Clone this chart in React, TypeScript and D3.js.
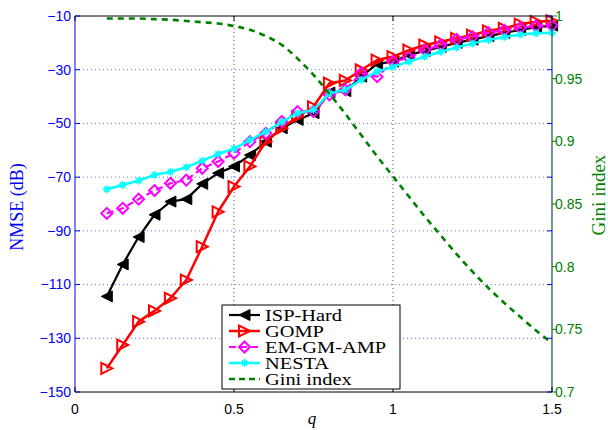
import React from "react";
import * as d3 from "d3";

const qValues = [0.1, 0.15, 0.2, 0.25, 0.3, 0.35, 0.4, 0.45, 0.5, 0.55, 0.6, 0.65, 0.7, 0.75, 0.8, 0.85, 0.9, 0.95, 1.0, 1.05, 1.1, 1.15, 1.2, 1.25, 1.3, 1.35, 1.4, 1.45, 1.5];

const ispHard = [-114.4, -102.5, -92.3, -84, -79.1, -78.2, -72.5, -68.5, -66, -61.8, -56.8, -51.8, -48.7, -46.2, -38.5, -38, -32.6, -27.8, -27, -24.5, -23, -21.5, -20, -18.8, -17.5, -16.3, -15.2, -14.2, -13.6];
const gomp = [-141.2, -132.5, -123.8, -119.8, -115.1, -108.3, -95.9, -82.9, -73.5, -66, -56.8, -51.8, -47.5, -43.8, -35, -34, -30.1, -26.4, -25.1, -22.7, -20.8, -19.6, -18.3, -17.1, -15.5, -14.6, -13, -12.1, -11.8];
const emGmAmp = [-83.5, -81.6, -78.2, -75, -72.3, -71.1, -66.7, -64.2, -61.1, -56.8, -53.7, -49.3, -45.6, -45.6, -39.4, -37.5, -31.3, -32.6, -27, -25.5, -22.7, -20.8, -18.7, -17.7, -16.2, -15.3, -14.4, -13.7, -13.5];
const nesta = [-74.5, -72.9, -71.3, -69.2, -68, -66.3, -63.9, -61.4, -59.4, -56.2, -53.1, -49.4, -46.2, -45, -38.8, -37.5, -33.8, -30.7, -28.9, -27, -25.1, -23.3, -21.7, -20.2, -18.9, -17.8, -16.9, -16.4, -16.2];
const gini = [0.998, 0.998, 0.998, 0.9975, 0.997, 0.996, 0.995, 0.994, 0.992, 0.989, 0.984, 0.977, 0.966, 0.953, 0.938, 0.922, 0.905, 0.888, 0.872, 0.856, 0.84, 0.825, 0.81, 0.796, 0.783, 0.771, 0.76, 0.749, 0.739];

const xTicks = [0, 0.5, 1, 1.5];
const leftTicks = [-10, -30, -50, -70, -90, -110, -130, -150];
const rightTicks = [0.7, 0.75, 0.8, 0.85, 0.9, 0.95, 1];

type Marker = "left" | "right" | "diamond" | "star";

const series: { name: string; values: number[]; color: string; dash?: string; marker: Marker; width: number }[] = [
  { name: "ISP-Hard", values: ispHard, color: "#000000", marker: "left", width: 2.2 },
  { name: "GOMP", values: gomp, color: "#ff0000", marker: "right", width: 2.5 },
  { name: "EM-GM-AMP", values: emGmAmp, color: "#ff00ff", dash: "7,4", marker: "diamond", width: 2.2 },
  { name: "NESTA", values: nesta, color: "#00ffff", marker: "star", width: 2.5 },
];

const M = { left: 75, right: 552, top: 16, bottom: 392 };

function MarkerShape({ type, x, y, color }: { type: Marker; x: number; y: number; color: string }) {
  const s = 5.5;
  if (type === "left") {
    return <path d={`M${x - s},${y}L${x + s},${y - s}L${x + s},${y + s}Z`} fill={color} stroke={color} strokeWidth={1} />;
  }
  if (type === "right") {
    return <path d={`M${x + s},${y}L${x - s},${y - s}L${x - s},${y + s}Z`} fill="none" stroke={color} strokeWidth={2} />;
  }
  if (type === "diamond") {
    return <path d={`M${x},${y - s}L${x + s},${y}L${x},${y + s}L${x - s},${y}Z`} fill="none" stroke={color} strokeWidth={2} />;
  }
  const r = 4;
  const k = r * 0.7;
  return (
    <path
      d={`M${x - r},${y}L${x + r},${y}M${x},${y - r}L${x},${y + r}M${x - k},${y - k}L${x + k},${y + k}M${x - k},${y + k}L${x + k},${y - k}`}
      stroke={color}
      strokeWidth={1.5}
    />
  );
}

export default function App() {
  const x = d3.scaleLinear().domain([0, 1.5]).range([M.left, M.right]);
  const yL = d3.scaleLinear().domain([-150, -10]).range([M.bottom, M.top]);
  const yR = d3.scaleLinear().domain([0.7, 1]).range([M.bottom, M.top]);

  const line = d3
    .line<number>()
    .x((_, i) => x(qValues[i]))
    .y((d) => yL(d));
  const giniLine = d3
    .line<number>()
    .x((_, i) => x(qValues[i]))
    .y((d) => yR(d))
    .curve(d3.curveMonotoneX);

  const tickFont = "'Liberation Sans', Arial, sans-serif";
  const serif = "'Liberation Serif', 'Times New Roman', serif";

  const legendX = 222;
  const legendY = 305;
  const legendW = 178;
  const rowH = 16;
  const legendItems = [
    ...series.map((s) => ({ name: s.name, color: s.color, dash: s.dash, marker: s.marker as Marker | null, width: s.width })),
    { name: "Gini index", color: "#008000", dash: "6,4", marker: null as Marker | null, width: 2.5 },
  ];

  return (
    <svg width={608} height={430} style={{ position: "absolute", left: 0, top: 0, background: "#fff" }}>
      <rect x={0} y={0} width={608} height={430} fill="#fff" />
      {/* grid */}
      {leftTicks.slice(1, -1).map((t) => (
        <line key={t} x1={M.left} x2={M.right} y1={yL(t)} y2={yL(t)} stroke="#7070ff" strokeWidth={1} strokeDasharray="1,3" />
      ))}
      {[0.5, 1].map((t) => (
        <line key={t} x1={x(t)} x2={x(t)} y1={M.top} y2={M.bottom} stroke="#555" strokeWidth={1} strokeDasharray="1,3" />
      ))}

      {/* series */}
      {series.map((s) => (
        <g key={s.name}>
          <path d={line(s.values) ?? ""} fill="none" stroke={s.color} strokeWidth={s.width} strokeDasharray={s.dash} strokeLinejoin="round" />
          {s.values.map((v, i) => (
            <MarkerShape key={i} type={s.marker} x={x(qValues[i])} y={yL(v)} color={s.color} />
          ))}
        </g>
      ))}
      <path d={giniLine(gini) ?? ""} fill="none" stroke="#008000" strokeWidth={2.6} strokeDasharray="6,5" />

      {/* frame */}
      <line x1={M.left} x2={M.right} y1={M.top} y2={M.top} stroke="#000" strokeWidth={1} />
      <line x1={M.left} x2={M.right} y1={M.bottom} y2={M.bottom} stroke="#000" strokeWidth={1} />
      <line x1={M.left} x2={M.left} y1={M.top} y2={M.bottom} stroke="#0000ff" strokeWidth={1} />
      <line x1={M.right} x2={M.right} y1={M.top} y2={M.bottom} stroke="#1a4a5a" strokeWidth={1.2} />

      {/* left axis */}
      {leftTicks.map((t) => (
        <g key={t}>
          <line x1={M.left} x2={M.left + 5} y1={yL(t)} y2={yL(t)} stroke="#0000ff" />
          <line x1={M.right - 5} x2={M.right} y1={yL(t)} y2={yL(t)} stroke="#0000ff" />
          <text x={M.left - 4} y={yL(t)} dy="0.35em" textAnchor="end" fontFamily={tickFont} fontSize={14} fill="#0000ff">
            {"\u2212" + Math.abs(t)}
          </text>
        </g>
      ))}
      {/* right axis */}
      {rightTicks.map((t) => (
        <g key={t}>
          <line x1={M.right} x2={M.right + 5} y1={yR(t)} y2={yR(t)} stroke="#008000" />
          <text x={M.right + 3} y={yR(t)} dy="0.35em" textAnchor="start" fontFamily={tickFont} fontSize={14} fill="#008000">
            {String(t)}
          </text>
        </g>
      ))}
      {/* x axis */}
      {xTicks.map((t) => (
        <g key={t}>
          <line x1={x(t)} x2={x(t)} y1={M.bottom} y2={M.bottom - 5} stroke="#000" />
          <line x1={x(t)} x2={x(t)} y1={M.top} y2={M.top + 5} stroke="#000" />
          <text x={x(t)} y={M.bottom + 22} textAnchor="middle" fontFamily={tickFont} fontSize={14} fill="#000">
            {String(t)}
          </text>
        </g>
      ))}

      <text x={312} y={424} textAnchor="middle" fontFamily={serif} fontStyle="italic" fontSize={17} fill="#000">
        q
      </text>
      <text transform={`translate(23,${207}) rotate(-90)`} textAnchor="middle" fontFamily={serif} fontSize={18} fill="#0000ff">
        NMSE (dB)
      </text>
      <text transform={`translate(605,${195}) rotate(-90)`} textAnchor="middle" fontFamily={serif} fontSize={19} fill="#008000">
        Gini index
      </text>

      {/* legend */}
      <rect x={legendX} y={legendY} width={legendW} height={84} fill="#fff" stroke="#000" strokeWidth={1} />
      {legendItems.map((it, i) => {
        const cy = legendY + 10 + i * rowH;
        return (
          <g key={it.name}>
            <line x1={legendX + 7} x2={legendX + 38} y1={cy} y2={cy} stroke={it.color} strokeWidth={it.width} strokeDasharray={it.dash} />
            {it.marker && <MarkerShape type={it.marker} x={legendX + 22.5} y={cy} color={it.color} />}
            <text
              transform={`translate(${legendX + 43},${cy + 5.5}) scale(1.2,1)`}
              fontFamily={serif}
              fontSize={17}
              fill="#000"
            >
              {it.name}
            </text>
          </g>
        );
      })}
    </svg>
  );
}
